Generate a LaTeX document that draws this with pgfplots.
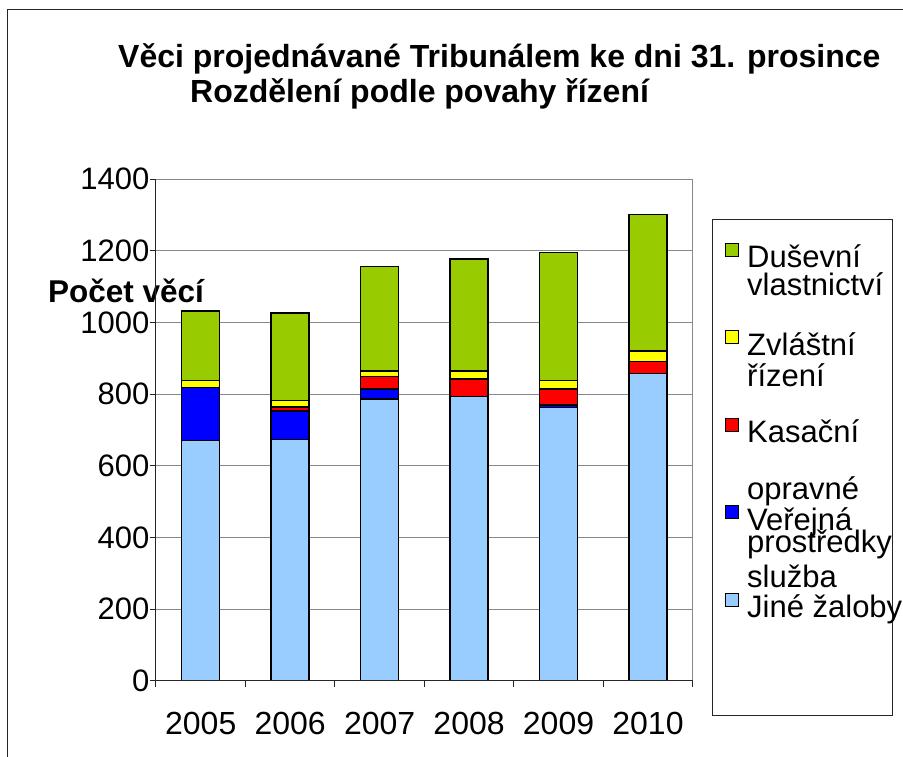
\documentclass[border=0pt]{standalone}
\usepackage{fontspec}
\setmainfont{Liberation Sans}
\usepackage{pgfplots}
\pgfplotsset{compat=1.18}
\definecolor{cGreen}{HTML}{99CC00}
\definecolor{cYellow}{HTML}{FFFF00}
\definecolor{cRed}{HTML}{FF0000}
\definecolor{cBlue}{HTML}{0000FF}
\definecolor{cLight}{HTML}{99CCFF}
\definecolor{cGrid}{HTML}{888888}
\newcommand{\fs}{\fontsize{31}{36}\selectfont}
\begin{document}
\begin{tikzpicture}[x=1pt,y=1pt]
\useasboundingbox (-156,-76.3) rectangle (747,680.7);
\draw[line width=1pt,black!85] (-148,-80) -- (-148,670.7) -- (750,670.7);
\node[anchor=base west,inner sep=0pt,font=\fontsize{32}{38}\selectfont\bfseries] at (-38,612.7) {Věci projednávané Tribunálem ke dni 31. prosince};
\node[anchor=base west,inner sep=0pt,font=\fontsize{32}{38}\selectfont\bfseries] at (34,577.7) {Rozdělení podle povahy řízení};
\node[anchor=base west,inner sep=0pt,font=\fontsize{31.5}{38}\selectfont\bfseries] at (-108,378) {Počet věcí};
\draw[line width=1pt,black!85] (556,461.4) rectangle (736,-35.3);
\begin{axis}[
  at={(0,0)}, anchor=south west,
  scale only axis, width=536.7pt, height=501.4pt,
  ybar stacked, bar width=38pt,
  xmin=2004.5, xmax=2010.5, ymin=0, ymax=1400,
  xtick={2004.5,2005.5,...,2010.5}, xticklabels={},
  extra x ticks={2005,2006,2007,2008,2009,2010},
  extra x tick labels={2005,2006,2007,2008,2009,2010},
  extra x tick style={major tick length=0pt, xticklabel style={inner sep=0pt, anchor=north, yshift=-31pt, font=\fontsize{32}{38}\selectfont}},
  ytick={0,200,...,1400},
  axis line style={cGrid, line width=1pt},
  ymajorgrids, major grid style={cGrid, line width=1pt},
  tick align=outside, major tick length=6.5pt,
  tick style={black!85, line width=1pt},
  xtick pos=bottom, ytick pos=left,
  tick label style={font=\fs},
  yticklabel style={inner sep=0pt, anchor=east},
  /pgf/number format/.cd, 1000 sep={}, assume math mode=true, /pgfplots/.cd,
  every axis plot/.append style={draw=black, line width=1.4pt},
  legend style={draw=none, fill=none, inner sep=0pt,
    at={(axis description cs:1.0602,0.8830)}, anchor=north west,
    nodes={inner sep=0pt, text depth=0pt, text height=25pt}, column sep=8pt, row sep=58pt, font=\fs},
  legend cell align=left, reverse legend,
  legend image code/.code={\path[draw=none,fill=none] (0pt,-8pt) rectangle (13pt,17pt);\draw[#1,line width=1pt] (0pt,-1pt) rectangle (13pt,12pt);},
  after end axis/.code={\draw[black!85,line width=1pt] (rel axis cs:0,1) -- (rel axis cs:0,0) -- (rel axis cs:1,0);},
]
\addplot[fill=cLight] coordinates {(2005,670) (2006,674) (2007,787) (2008,793) (2009,763) (2010,858)};
\addlegendentry{Jiné žaloby}
\addplot[fill=cBlue] coordinates {(2005,149) (2006,79) (2007,27) (2008,0) (2009,7) (2010,0)};
\addlegendentry{\rlap{Veřejná}\raisebox{-57pt}[0pt][0pt]{služba}}
\addplot[fill=cRed] coordinates {(2005,0) (2006,11) (2007,35) (2008,49) (2009,44) (2010,34)};
\addlegendentry{\rlap{Kasační}\rlap{\raisebox{-57pt}[0pt][0pt]{opravné}}\raisebox{-110pt}[0pt][0pt]{prostředky}}
\addplot[fill=cYellow] coordinates {(2005,19) (2006,18) (2007,16) (2008,23) (2009,24) (2010,29)};
\addlegendentry{\rlap{Zvláštní}\raisebox{-31pt}[0pt][0pt]{řízení}}
\addplot[fill=cGreen] coordinates {(2005,194) (2006,245) (2007,291) (2008,312) (2009,357) (2010,381)};
\addlegendentry{\rlap{Duševní}\raisebox{-28pt}[0pt][0pt]{vlastnictví}}
\end{axis}
\end{tikzpicture}
\end{document}
